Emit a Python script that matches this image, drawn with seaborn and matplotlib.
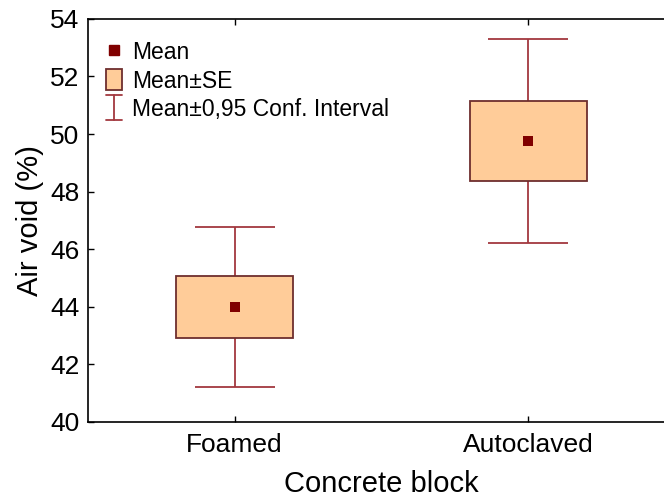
import matplotlib
matplotlib.use("Agg")
import matplotlib.pyplot as plt
import seaborn as sns
import pandas as pd
from matplotlib.lines import Line2D
from matplotlib.patches import Patch
from matplotlib.legend_handler import HandlerBase

# Air void summary per block type
categories = ["Foamed", "Autoclaved"]
means = [44.0, 49.75]
se_low = [42.92, 48.37]
se_high = [45.08, 51.15]
ci_low = [41.22, 46.23]
ci_high = [46.78, 53.30]
y_ticks = [40, 42, 44, 46, 48, 50, 52, 54]

sns.set_theme(style="white")
plt.rcParams["font.family"] = ["Liberation Sans", "DejaVu Sans"]
plt.rcParams["text.color"] = "black"
plt.rcParams["axes.labelcolor"] = "black"

df = pd.DataFrame({"block": categories, "mean": means,
                   "lo": se_low, "hi": se_high,
                   "cil": ci_low, "cih": ci_high})

fig = plt.figure(figsize=(6.64, 4.97), dpi=100)
ax = fig.add_axes([0.132, 0.151, 0.885, 0.811])

box_fill = "#FFCC99"
box_edge = "#6E2E2E"
whisk = "#A3383F"
mean_col = "#800000"


class HandlerCI(HandlerBase):
    """Draws an I-shaped whisker symbol in the legend."""

    def create_artists(self, legend, orig_handle, xdescent, ydescent,
                       width, height, fontsize, trans):
        cx = width / 2 - xdescent
        y0 = -ydescent - 0.1 * height
        y1 = height - ydescent + 0.1 * height
        cap = width * 0.5
        kw = dict(color=whisk, lw=1.3, transform=trans)
        return [Line2D([cx, cx], [y0, y1], **kw),
                Line2D([cx - cap, cx + cap], [y0, y0], **kw),
                Line2D([cx - cap, cx + cap], [y1, y1], **kw)]


# confidence-interval whiskers
pos = list(range(len(categories)))
ax.errorbar(pos, df["mean"],
            yerr=[df["mean"] - df["cil"], df["cih"] - df["mean"]],
            fmt="none", ecolor=whisk, elinewidth=1.3, capsize=29,
            capthick=1.3, zorder=1)

# standard-error boxes
ax.bar(pos, df["hi"] - df["lo"], bottom=df["lo"], width=0.40,
       color=box_fill, edgecolor=box_edge, linewidth=1.3, zorder=2)

# means
sns.scatterplot(data=df, x="block", y="mean", ax=ax, marker="s", s=55,
                color=mean_col, edgecolor=mean_col, linewidth=0, zorder=3)

ax.set_xlim(-0.5, 1.5)
ax.set_ylim(40, 54)
ax.set_yticks(y_ticks)
ax.set_xticks(pos)
ax.set_xticklabels(categories)
ax.set_xlabel("Concrete block", fontsize=21, labelpad=9)
ax.set_ylabel("Air void (%)", fontsize=21, labelpad=4)
ax.tick_params(axis="both", direction="in", length=4, width=1,
               colors="black", labelsize=19, pad=6, bottom=True, left=True,
               top=True, right=False)
ax.tick_params(axis="x", pad=8)
for s in ax.spines.values():
    s.set_color("black")
    s.set_linewidth(1.2)

ci_key = object()
handles = [
    Line2D([0], [0], marker="s", color="none", markerfacecolor=mean_col,
           markeredgecolor=mean_col, markersize=6.5),
    Patch(facecolor=box_fill, edgecolor=box_edge, linewidth=1.3),
    ci_key,
]
ax.legend(handles, ["Mean", "Mean±SE", "Mean±0,95 Conf. Interval"],
          handler_map={ci_key: HandlerCI()},
          loc="upper left", bbox_to_anchor=(0.0, 0.99), frameon=False,
          fontsize=16.5, handlelength=0.68, handleheight=1.0,
          handletextpad=0.45, labelspacing=0.22, borderaxespad=0.4)

fig.savefig("out.png", dpi=100)
